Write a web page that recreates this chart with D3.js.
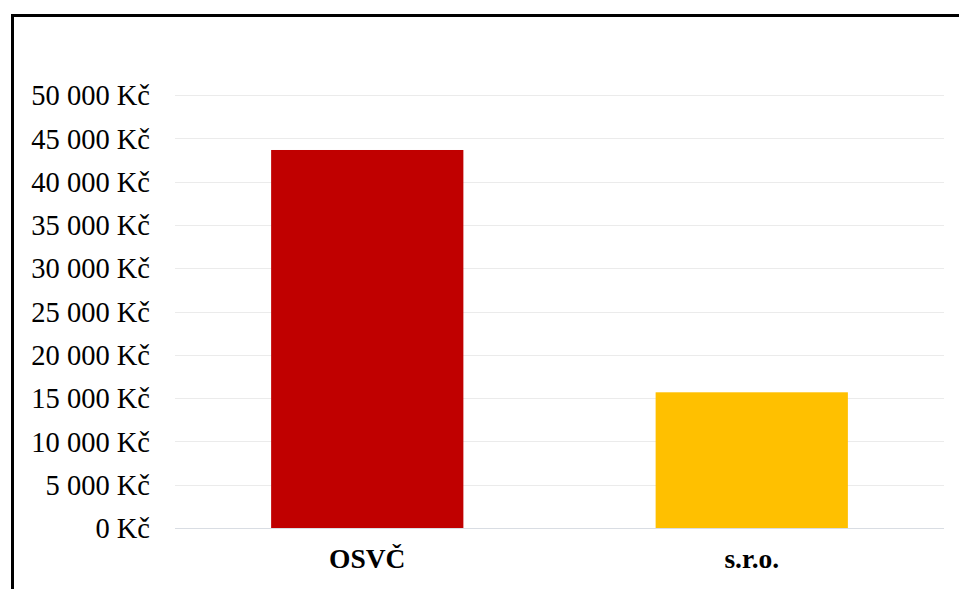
<!DOCTYPE html>
<html>
<head>
<meta charset="utf-8">
<script src="https://cdn.jsdelivr.net/npm/d3@7"></script>
<style>
html, body { margin: 0; padding: 0; background: #fff; }
svg { display: block; }
</style>
</head>
<body>
<svg id="chart" width="959" height="589"></svg>
<script>
const categories = ["OSVČ", "s.r.o."];
const values = [43650, 15670];
const colors = ["#C00000", "#FFC000"];
const tickValues = [0, 5000, 10000, 15000, 20000, 25000, 30000, 35000, 40000, 45000, 50000];
const tickLabels = ["0 Kč", "5 000 Kč", "10 000 Kč", "15 000 Kč", "20 000 Kč", "25 000 Kč", "30 000 Kč", "35 000 Kč", "40 000 Kč", "45 000 Kč", "50 000 Kč"];

const svg = d3.select("#chart");
const W = 959, H = 589;
const margin = { left: 175, right: 15, top: 95, bottom: 61 };

// outer frame
svg.append("rect")
  .attr("x", 12.5).attr("y", 15.5)
  .attr("width", 1000).attr("height", 1000)
  .attr("fill", "#fff").attr("stroke", "#000").attr("stroke-width", 3);

const x = d3.scaleBand()
  .domain(categories)
  .range([margin.left, W - margin.right])
  .paddingInner(0.5).paddingOuter(0.25);

const y = d3.scaleLinear()
  .domain([0, 50000])
  .range([H - margin.bottom, margin.top]);

// gridlines
const yAxis = d3.axisLeft(y)
  .tickValues(tickValues)
  .tickSize(-(W - margin.right - margin.left))
  .tickFormat((d, i) => tickLabels[i]);

const gy = svg.append("g")
  .attr("transform", `translate(${margin.left},0)`)
  .call(yAxis);
gy.select(".domain").remove();
gy.selectAll(".tick line")
  .attr("stroke", d => d === 0 ? "#d9dde3" : "#ebebeb")
  .attr("stroke-width", 1)
  .attr("shape-rendering", "crispEdges");
gy.selectAll(".tick text")
  .attr("x", -25)
  .attr("dy", "0.34em")
  .attr("fill", "#000")
  .style("font-family", "'Liberation Serif', 'Times New Roman', serif")
  .style("font-size", "28.5px");

// bars
svg.append("g").selectAll("rect")
  .data(categories)
  .join("rect")
  .attr("x", d => x(d))
  .attr("width", x.bandwidth())
  .attr("y", (d, i) => y(values[i]))
  .attr("height", (d, i) => y(0) - y(values[i]))
  .attr("fill", (d, i) => colors[i]);

// redraw baseline on top
svg.append("line")
  .attr("x1", margin.left).attr("x2", W - margin.right)
  .attr("y1", Math.round(y(0)) + 0.5).attr("y2", Math.round(y(0)) + 0.5)
  .attr("stroke", "#d9dde3").attr("stroke-width", 1);

// x axis labels
const xAxis = d3.axisBottom(x).tickSize(0).tickPadding(0);
const gx = svg.append("g")
  .attr("transform", `translate(0,${y(0)})`)
  .call(xAxis);
gx.select(".domain").remove();
gx.selectAll(".tick text")
  .attr("y", 40)
  .attr("dy", 0)
  .attr("fill", "#000")
  .style("font-family", "'Liberation Serif', 'Times New Roman', serif")
  .style("font-weight", "bold")
  .style("font-size", "27.5px");
</script>
</body>
</html>
